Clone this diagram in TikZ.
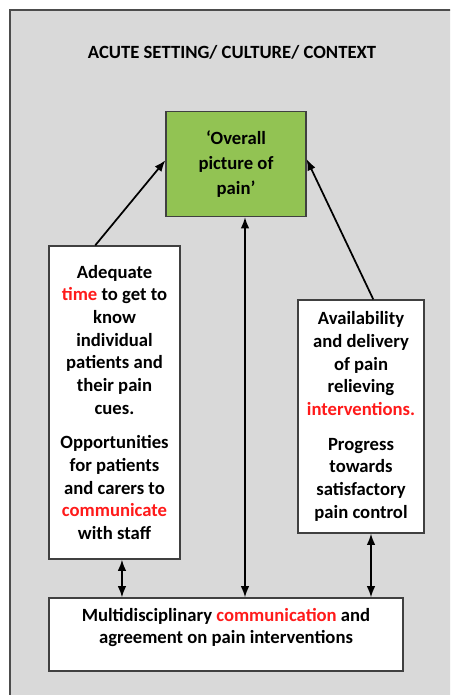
\documentclass[tikz,border=0pt]{standalone}
\usepackage{fontspec}
\setmainfont{Carlito}
\usetikzlibrary{arrows.meta}
\definecolor{framegrey}{HTML}{D9D9D9}
\definecolor{paingreen}{HTML}{92C353}
\definecolor{keyred}{HTML}{FF1A1A}
\newcommand{\keyword}[1]{\textcolor{keyred}{#1}}
\tikzset{x=0.75pt, y=-0.75pt,
every node/.style={ % Sets the font for all text
font=\fontsize{14}{17}\selectfont\bfseries},
infobox/.style={ % White boxes round the factors
draw=black!75,
line width=0.9pt,
fill=white,
align=center,
inner sep=2pt},
link/.style={ % Arrows between the boxes
draw,
line width=1.3pt,
-{Latex[length=8.5pt,width=6.5pt]}},
twoway/.style={ % Arrows in both directions
link,
{Latex[length=8.5pt,width=6.5pt]}-{Latex[length=8.5pt,width=6.5pt]}}}

\begin{document}
\begin{tikzpicture}
\useasboundingbox (0,0) rectangle (450,695);
\begin{scope}
\clip (0,0) rectangle (450,695);
\draw[fill=framegrey, line width=0.9pt, draw=black!70] (10,10) rectangle (470,715);
\end{scope}
\node (title) at (232,52) {ACUTE SETTING/ CULTURE/ CONTEXT};
\node[infobox, fill=paingreen, minimum width=105pt, minimum height=78.75pt,
font=\fontsize{14}{19}\selectfont\bfseries] (pain) at (236,164)
{‘Overall\\picture of\\pain’};
\node[infobox, minimum width=98.25pt, minimum height=234.75pt] (time) at (114.5,402.5)
{Adequate\\\keyword{time} to get to\\know\\individual\\patients and\\their pain\\cues.\\[9pt]
Opportunities\\for patients\\and carers to\\\keyword{communicate}\\with staff};
\node[infobox, minimum width=94.5pt, minimum height=174.75pt] (deliv) at (361,416.5)
{Availability\\and delivery\\of pain\\relieving\\\keyword{interventions.}\\[9pt]
Progress\\towards\\satisfactory\\pain control};
\node[infobox, minimum width=265.5pt, minimum height=54.75pt] (multi) at (226,634.5)
{Multidisciplinary \keyword{communication} and\\agreement on pain interventions\\[-4pt]};
\draw[link] (time.97) -- (pain.177);
\draw[link] (deliv.84) -- (pain.4);
\draw[twoway] ([xshift=6.75pt]pain.south) -- ([xshift=6.75pt]pain.south |- multi.north);
\draw[twoway] ([xshift=5.6pt]time.south) -- ([xshift=5.6pt]time.south |- multi.north);
\draw[twoway] ([xshift=7.5pt]deliv.south) -- ([xshift=7.5pt]deliv.south |- multi.north);
\end{tikzpicture}
\end{document}
